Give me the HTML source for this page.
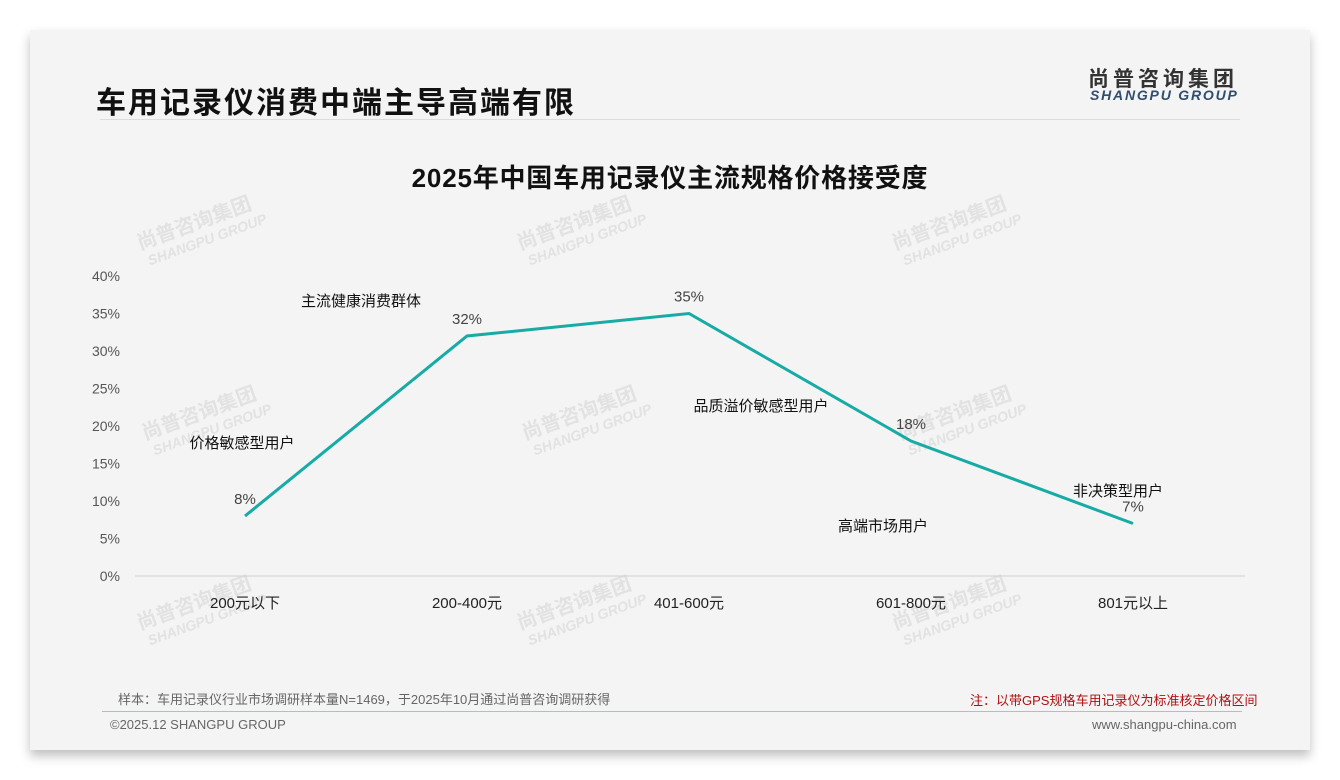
<!DOCTYPE html>
<html><head><meta charset="utf-8">
<style>
body{margin:0;width:1340px;height:780px;background:#fff;font-family:"Liberation Sans","Noto Sans CJK SC",sans-serif;position:relative;overflow:hidden}
#card{position:absolute;left:30px;top:30px;width:1280px;height:720px;background:#f4f4f4;box-shadow:0 6px 10px rgba(0,0,0,0.25)}
.abs{position:absolute;white-space:nowrap}
</style></head><body>
<div id="card"></div>
<div class="abs" style="left:96px;top:78px;font-size:30px;font-weight:bold;color:#111;letter-spacing:2px">车用记录仪消费中端主导高端有限</div>
<div class="abs" style="left:1088px;top:63px;font-size:21px;font-weight:bold;color:#333;letter-spacing:4px">尚普咨询集团</div>
<div class="abs" style="left:1090px;top:87px;font-size:14px;font-weight:bold;font-style:italic;color:#2f4e6e;letter-spacing:1.8px">SHANGPU GROUP</div>
<div class="abs" style="left:100px;top:119px;width:1140px;height:1px;background:#ddd"></div>
<svg class="abs" style="left:0;top:0" width="1340" height="780">
<g id="wm" fill="#e2e2e2" font-weight="bold"></g>
<text x="670" y="187" text-anchor="middle" font-size="26" font-weight="bold" fill="#111" letter-spacing="0.8">2025年中国车用记录仪主流规格价格接受度</text>
<g id="plot"></g>
</svg>
<div class="abs" style="left:118px;top:689px;font-size:13px;color:#666">样本：车用记录仪行业市场调研样本量N=1469，于2025年10月通过尚普咨询调研获得</div>
<div class="abs" style="left:970px;top:690px;font-size:13px;color:#b01010">注：以带GPS规格车用记录仪为标准核定价格区间</div>
<div class="abs" style="left:102px;top:711px;width:1140px;height:1px;background:#aebfcc"></div>
<div class="abs" style="left:110px;top:717px;font-size:13px;color:#666">©2025.12 SHANGPU GROUP</div>
<div class="abs" style="left:1092px;top:717px;font-size:13px;color:#666">www.shangpu-china.com</div>
<script>
const categories=["200元以下","200-400元","401-600元","601-800元","801元以上"];
const values=[8,32,35,18,7];
const yTicks=[0,5,10,15,20,25,30,35,40];
const notes=["价格敏感型用户","主流健康消费群体","品质溢价敏感型用户","高端市场用户","非决策型用户"];
const NS="http://www.w3.org/2000/svg";
const plot=document.getElementById('plot');
const x=i=>245+i*222;
const y=v=>576-v*7.5;
function mk(t,a,p){const e=document.createElementNS(NS,t);for(const k in a)e.setAttribute(k,a[k]);(p||plot).appendChild(e);return e;}
const wm=document.getElementById('wm');
[[140,250],[520,250],[895,250],[145,440],[525,440],[900,440],[140,630],[520,630],[895,630]].forEach(p=>{
 const g=mk('g',{transform:`translate(${p[0]},${p[1]}) rotate(-20)`},wm);
 
 
 const t1=mk('text',{x:0,y:0,'font-size':20},g);t1.textContent='尚普咨询集团';
 const t2=mk('text',{x:4,y:18,'font-size':14,'font-style':'italic'},g);t2.textContent='SHANGPU GROUP';
});
yTicks.forEach(v=>{const t=mk('text',{x:120,y:y(v)+5,'text-anchor':'end','font-size':14,fill:'#555'});


t.textContent=v+'%';});
const ax=mk('line',{x1:135,x2:1245,y1:576,y2:576,stroke:'#d0d0d0'});


categories.forEach((c,i)=>{const t=mk('text',{x:x(i),y:608,'text-anchor':'middle','font-size':15,fill:'#222'});


t.textContent=c;});
const line=mk('polyline',{points:values.map((v,i)=>x(i)+','+y(v)).join(' '),fill:'none',stroke:'#17aba6','stroke-width':3});


values.forEach((v,i)=>{const t=mk('text',{x:x(i),y:y(v)-12,'text-anchor':'middle','font-size':15,fill:'#444'});


t.textContent=v+'%';});
const notePos=[[242,448],[361,306],[761,411],[883,531],[1118,496]];
notes.forEach((n,i)=>{const t=mk('text',{x:notePos[i][0],y:notePos[i][1],'text-anchor':'middle','font-size':15,fill:'#111'});


t.textContent=n;});
</script>
</body></html>
